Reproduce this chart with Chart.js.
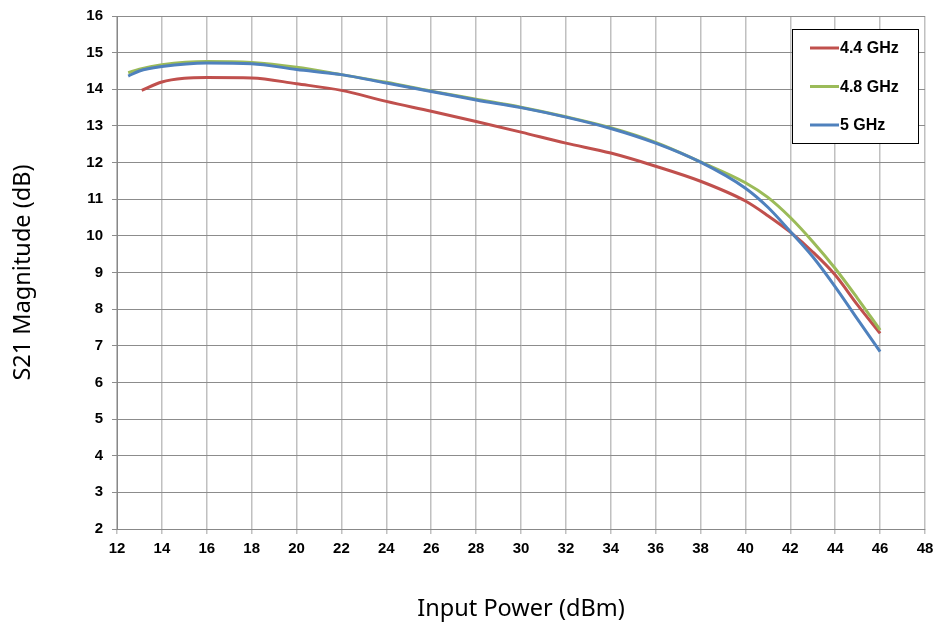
<!DOCTYPE html>
<html>
<head>
<meta charset="utf-8">
<script src="https://cdn.jsdelivr.net/npm/chart.js@4/dist/chart.umd.min.js"></script>
<style>
  html, body { margin: 0; padding: 0; background: #fff; }
  #wrap { width: 937px; height: 625px; }
</style>
</head>
<body>
<div id="wrap"><canvas id="chart" width="937" height="625"></canvas></div>
<script>
// input power (dBm)
const power44 = [13.1, 14, 15, 16, 18, 20, 22, 24, 26, 28, 30, 32, 34, 36, 38, 40, 41, 42, 43, 44, 45, 46];
const power48 = [12.5, 13, 14, 16, 18, 20, 22, 24, 26, 28, 30, 32, 34, 36, 38, 40, 41, 42, 43, 44, 45, 46];

// S21 magnitude (dB)
const s21_44 = [13.97, 14.2, 14.3, 14.32, 14.31, 14.15, 13.97, 13.67, 13.4, 13.12, 12.83, 12.53, 12.26, 11.9, 11.49, 10.95, 10.55, 10.1, 9.56, 8.93, 8.11, 7.34];
const s21_48 = [14.45, 14.55, 14.67, 14.76, 14.73, 14.6, 14.4, 14.19, 13.95, 13.73, 13.51, 13.25, 12.95, 12.55, 12.02, 11.45, 11.05, 10.5, 9.84, 9.11, 8.29, 7.43];
const s21_5 = [14.36, 14.5, 14.62, 14.72, 14.7, 14.54, 14.4, 14.17, 13.94, 13.71, 13.5, 13.24, 12.93, 12.53, 12.01, 11.3, 10.78, 10.12, 9.43, 8.61, 7.72, 6.84];

const seriesNames = ["4.4 GHz", "4.8 GHz", "5 GHz"];
const seriesColors = ["#C0504D", "#9BBB59", "#4F81BD"];

const toPoints = (xs, ys) => xs.map((x, i) => ({ x: x, y: ys[i] }));

// boxed legend inside the plot, like the original
const boxLegend = {
  id: "boxLegend",
  afterDraw(chart) {
    const ctx = chart.ctx;
    const x0 = 792.5, y0 = 29.5, w = 126, h = 114;
    ctx.save();
    ctx.fillStyle = "#fff";
    ctx.fillRect(x0, y0, w, h);
    ctx.strokeStyle = "#000";
    ctx.lineWidth = 1;
    ctx.strokeRect(x0, y0, w, h);
    ctx.font = "bold 16px 'Liberation Sans', Arial, sans-serif";
    ctx.textBaseline = "middle";
    chart.data.datasets.forEach((ds, i) => {
      const y = 48 + i * 38.5;
      ctx.strokeStyle = ds.borderColor;
      ctx.lineWidth = 3;
      ctx.beginPath();
      ctx.moveTo(810, y);
      ctx.lineTo(839, y);
      ctx.stroke();
      ctx.fillStyle = "#000";
      ctx.fillText(ds.label, 840, y + 1);
    });
    ctx.restore();
  }
};

const tickFont = { family: "'Liberation Sans', Arial, sans-serif", size: 15, weight: "bold" };
const titleFont = { family: "'Noto Sans', 'Open Sans', sans-serif", size: 23.5 };

new Chart(document.getElementById("chart"), {
  type: "line",
  data: {
    datasets: [
      { label: seriesNames[0], data: toPoints(power44, s21_44), borderColor: seriesColors[0], order: 3 },
      { label: seriesNames[1], data: toPoints(power48, s21_48), borderColor: seriesColors[1], order: 2 },
      { label: seriesNames[2], data: toPoints(power48, s21_5), borderColor: seriesColors[2], order: 1 }
    ]
  },
  options: {
    responsive: false,
    animation: false,
    layout: { padding: { top: 16, right: 12, left: 0, bottom: 0 } },
    elements: {
      line: { borderWidth: 3, tension: 0.4, cubicInterpolationMode: "monotone", fill: false },
      point: { radius: 0 }
    },
    plugins: {
      legend: { display: false },
      tooltip: { enabled: false }
    },
    scales: {
      x: {
        type: "linear",
        min: 12,
        max: 48,
        ticks: { stepSize: 2, color: "#000", font: tickFont, padding: 6, maxRotation: 0 },
        grid: { color: "#c0c0c0", lineWidth: 1.5, tickLength: 5 },
        border: { color: "#888", width: 1 },
        title: { display: true, text: "Input Power (dBm)", color: "#000", font: titleFont, padding: { top: 4, bottom: 2 } },
        afterFit(scale) {
          scale.height = 96;
          scale.paddingRight = 0;
          scale.paddingLeft = 0;
        }
      },
      y: {
        min: 2,
        max: 16,
        ticks: { stepSize: 1, color: "#000", font: tickFont, padding: 9 },
        grid: { color: "#8c8c8c", lineWidth: 1, tickLength: 5 },
        border: { color: "#888", width: 1 },
        title: { display: true, text: "S21 Magnitude (dB)", color: "#000", font: titleFont, padding: { top: 9, bottom: 0 } },
        afterFit(scale) {
          scale.width = 117;
          scale.paddingTop = 0;
          scale.paddingBottom = 0;
        }
      }
    }
  },
  plugins: [boxLegend]
});
</script>
</body>
</html>
